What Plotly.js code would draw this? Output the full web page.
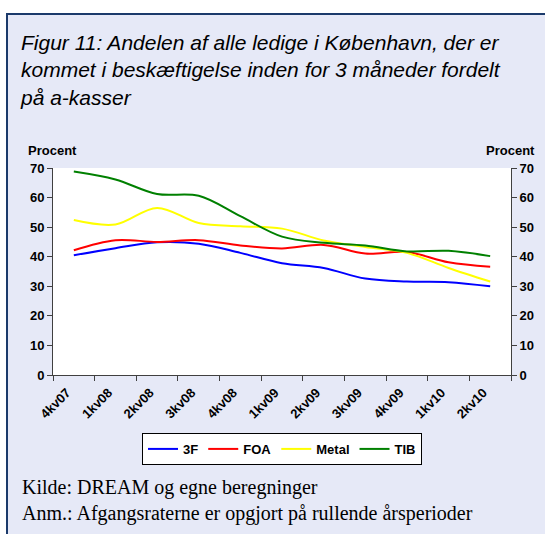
<!DOCTYPE html>
<html>
<head>
<meta charset="utf-8">
<script src="https://cdn.plot.ly/plotly-3.0.1.min.js"></script>
<style>
  html, body { margin: 0; padding: 0; background: #ffffff; }
  #frame { position: absolute; left: 6px; top: 13px; width: 545px; height: 530px;
           background: #E6E9F7; border-left: 2px solid #1B3A6B; border-top: 2px solid #1B3A6B; }
  #chart { position: absolute; left: 0; top: 0; width: 545px; height: 534px; }
</style>
</head>
<body>
<div id="frame"></div>
<div id="chart"></div>
<script>
const categories = ["4kv07","1kv08","2kv08","3kv08","4kv08","1kv09","2kv09","3kv09","4kv09","1kv10","2kv10"];
const seriesNames = ["3F","FOA","Metal","TIB"];
const values3F    = [40.5, 42.9, 44.9, 44.4, 41.3, 37.8, 36.2, 32.6, 31.6, 31.4, 30.0];
const valuesFOA   = [42.2, 45.6, 45.0, 45.6, 43.8, 42.8, 44.0, 41.1, 41.6, 38.1, 36.6];
const valuesMetal = [52.4, 50.9, 56.5, 51.4, 50.3, 49.5, 45.5, 43.3, 41.3, 36.2, 31.6];
const valuesTIB   = [68.8, 66.1, 61.2, 60.6, 53.7, 46.8, 44.7, 43.8, 41.8, 42.0, 40.2];
const yTicks = [0,10,20,30,40,50,60,70];

const colors = ["#0000FF","#FF0000","#FFFF00","#008000"];
const allValues = [values3F, valuesFOA, valuesMetal, valuesTIB];

const traces = seriesNames.map((n, i) => ({
  type: "scatter", mode: "lines", name: n,
  x: categories, y: allValues[i],
  line: { color: colors[i], width: 2, shape: "spline", smoothing: 1 }
}));
// invisible companion trace so that the right-hand (secondary) axis is drawn
traces.push({
  type: "scatter", mode: "lines", name: "TIB", x: categories, y: valuesTIB,
  yaxis: "y2", showlegend: false, hoverinfo: "skip", opacity: 0,
  line: { color: colors[3], width: 0 }
});

const tickFont = { family: "Liberation Sans, Arial, sans-serif", size: 13, color: "#000", weight: 700 };
const axisCommon = {
  range: [0, 70], tickvals: yTicks, ticktext: yTicks.map(String),
  ticks: "outside", ticklen: 5, tickcolor: "#404040", tickwidth: 1,
  showline: true, linecolor: "#404040", linewidth: 1,
  showgrid: false, zeroline: false, tickfont: tickFont, fixedrange: true
};

const layout = {
  width: 545, height: 534,
  paper_bgcolor: "rgba(0,0,0,0)", plot_bgcolor: "#ffffff",
  margin: { l: 53, r: 34, t: 168, b: 159, pad: 0 },
  showlegend: true,
  title: {
    text: "Figur 11: Andelen af alle ledige i København, der er<br>kommet i beskæftigelse inden for 3 måneder fordelt<br>på a-kasser",
    font: { family: "Liberation Sans, Arial, sans-serif", size: 21, color: "#000", style: "italic" },
    xref: "container", x: 21/545, xanchor: "left",
    yref: "container", y: 1 - 50/534, yanchor: "top", pad: {t:0,b:0,l:0,r:0}
  },
  xaxis: {
    type: "category", range: [-0.5, 10.5], tickangle: -45, tickson: "boundaries",
    ticks: "outside", ticklen: 5, tickcolor: "#404040", tickwidth: 1,
    showline: true, linecolor: "#404040", linewidth: 1, showgrid: false, zeroline: false,
    tickfont: { family: "Liberation Sans, Arial, sans-serif", size: 13, color: "#000", weight: 700 },
    ticklabelshift: -7, ticklabelstandoff: 4,
    fixedrange: true
  },
  yaxis: Object.assign({ side: "left" }, axisCommon),
  yaxis2: Object.assign({ side: "right", overlaying: "y", anchor: "x" }, axisCommon),
  legend: {
    orientation: "h", x: 0.5, xanchor: "center", y: -0.28, yanchor: "top",
    bgcolor: "#ffffff", bordercolor: "#000000", borderwidth: 1,
    font: { family: "Liberation Sans, Arial, sans-serif", size: 13, color: "#000", weight: 700 },
    itemwidth: 30, tracegroupgap: 0
  },
  annotations: [
    { text: "Procent", xref: "paper", yref: "paper", x: (26-53)/458, y: (375-150)/207,
      xanchor: "left", yanchor: "middle", showarrow: false,
      font: { family: "Liberation Sans, Arial, sans-serif", size: 13, color: "#000", weight: 700 } },
    { text: "Procent", xref: "paper", yref: "paper", x: (537-53)/458, y: (375-150)/207,
      xanchor: "right", yanchor: "middle", showarrow: false,
      font: { family: "Liberation Sans, Arial, sans-serif", size: 13, color: "#000", weight: 700 } },
    { text: "Kilde: DREAM og egne beregninger<br>Anm.: Afgangsraterne er opgjort på rullende årsperioder",
      xref: "paper", yref: "paper", x: (20-53)/458, y: (375-500)/207,
      xanchor: "left", yanchor: "middle", align: "left", showarrow: false,
      font: { family: "Liberation Serif, Times New Roman, serif", size: 20, color: "#000" } }
  ]
};

Plotly.newPlot("chart", traces, layout, { displayModeBar: false, staticPlot: true });
</script>
</body>
</html>
